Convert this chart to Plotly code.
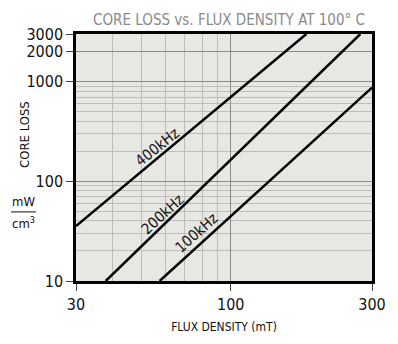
import math
import plotly.graph_objects as go

# ---- data ----
series_names = ["400kHz", "200kHz", "100kHz"]
flux_400 = [30, 180]
loss_400 = [35.5, 3000]
flux_200 = [37.8, 274]
loss_200 = [10, 3000]
flux_100 = [57.5, 300]
loss_100 = [10, 870]

x_tick_vals = [30, 100, 300]
x_tick_text = ["30", "100", "300"]
x_minor_vals = [40, 50, 60, 70, 80, 90]
y_tick_vals = [10, 100, 1000, 2000, 3000]
y_tick_text = ["10", "100", "1000", "2000", "3000"]
y_minor_vals = [20, 30, 40, 50, 60, 70, 80, 90, 200, 300, 400, 500, 600, 700, 800, 900]

title_text = "CORE LOSS vs. FLUX DENSITY AT 100° C"
x_title = "FLUX DENSITY (mT)"
y_title = "CORE LOSS"

FONT = "Liberation Sans Narrow, DejaVu Sans Condensed, Arial Narrow, sans-serif"

# plot-area geometry (pixels) used to place paper-referenced text
L, R, T, B = 75.5, 14.5, 34, 61.5
PW, PH = 398 - L - R, 344 - T - B

def px(xp):
    return (xp - L) / PW

def py(yp):
    return (344 - B - yp) / PH

fig = go.Figure()
for name, xs, ys in [(series_names[0], flux_400, loss_400),
                     (series_names[1], flux_200, loss_200),
                     (series_names[2], flux_100, loss_100)]:
    fig.add_trace(go.Scatter(x=xs, y=ys, mode="lines", name=name,
                             line=dict(color="black", width=2.5),
                             showlegend=False, hoverinfo="skip"))

# label placement (flux, loss) and angles; log axes take log10 positions
label_pos = [(56.5, 220, -38.7), (59, 47, -42.6), (76.5, 30.5, -41.7)]
for name, (lx, ly, ang) in zip(series_names, label_pos):
    fig.add_annotation(x=math.log10(lx), y=math.log10(ly), xref="x", yref="y",
                       text=name, showarrow=False, textangle=ang,
                       xanchor="center", yanchor="middle",
                       font=dict(family=FONT, size=15, color="#111"))

# y-axis title pieces
fig.add_annotation(x=px(22), y=py(135), xref="paper", yref="paper", text=y_title,
                   showarrow=False, textangle=-90, xanchor="center", yanchor="middle",
                   font=dict(family=FONT, size=13, color="#111"))
fig.add_annotation(x=px(21), y=py(203), xref="paper", yref="paper", text="mW",
                   showarrow=False, xanchor="center", yanchor="middle",
                   font=dict(family=FONT, size=13, color="#111"))
fig.add_annotation(x=px(21), y=py(224), xref="paper", yref="paper", text="cm<sup>3</sup>",
                   showarrow=False, xanchor="center", yanchor="middle",
                   font=dict(family=FONT, size=13, color="#111"))
fig.add_shape(type="line", xref="paper", yref="paper",
              x0=px(8), x1=px(34), y0=py(213), y1=py(213),
              line=dict(color="#111", width=1))

fig.update_layout(
    width=398, height=344,
    margin=dict(l=L, r=R, t=T, b=B),
    paper_bgcolor="white",
    plot_bgcolor="#e7e7e3",
    title=dict(text=title_text, x=229/398, xanchor="center", y=1 - 20/344, yanchor="middle",
               font=dict(family=FONT, size=15, color="#8a8a8a")),
    font=dict(family=FONT, size=15, color="#111"),
)

fig.update_xaxes(
    type="log", range=[math.log10(30), math.log10(300)],
    tickmode="array", tickvals=x_tick_vals, ticktext=x_tick_text,
    ticks="outside", ticklen=7, tickcolor="#444", tickwidth=1,
    showgrid=True, gridcolor="#8a8a8a", gridwidth=1,
    minor=dict(tickmode="array", tickvals=x_minor_vals, showgrid=True,
               gridcolor="#bdbdba", gridwidth=1, ticks=""),
    showline=True, linecolor="black", linewidth=2.5, mirror=True,
    zeroline=False,
    title=dict(text=x_title, font=dict(family=FONT, size=12, color="#111"), standoff=10),
    tickfont=dict(family=FONT, size=16, color="#111"),
)
fig.update_yaxes(
    type="log", range=[1, math.log10(3000)],
    tickmode="array", tickvals=y_tick_vals, ticktext=y_tick_text,
    ticks="outside", ticklen=7, tickcolor="#444", tickwidth=1,
    showgrid=True, gridcolor="#8a8a8a", gridwidth=1,
    minor=dict(tickmode="array", tickvals=y_minor_vals, showgrid=True,
               gridcolor="#bdbdba", gridwidth=1, ticks=""),
    showline=True, linecolor="black", linewidth=2.5, mirror=True,
    zeroline=False,
    tickfont=dict(family=FONT, size=16, color="#111"),
)

fig.write_html("out.html")
